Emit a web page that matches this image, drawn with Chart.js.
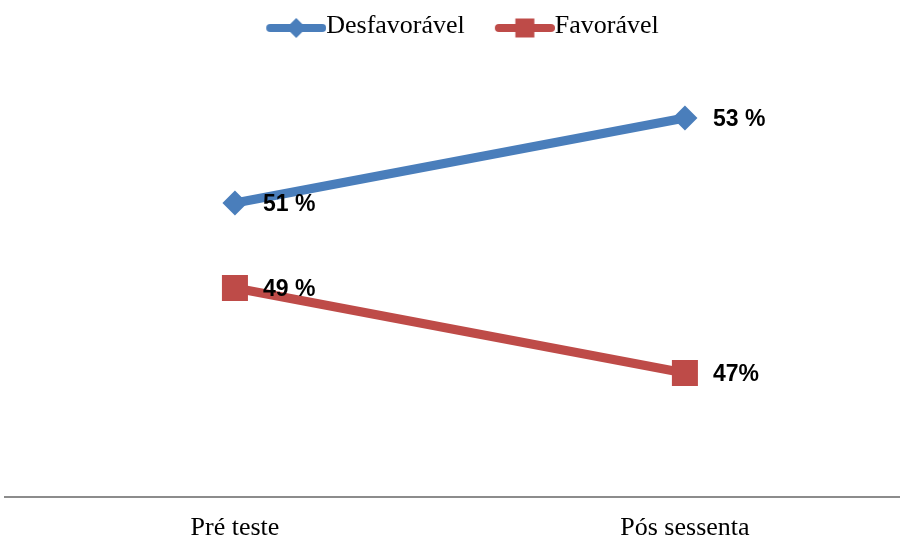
<!DOCTYPE html>
<html>
<head>
<meta charset="utf-8">
<script src="https://cdn.jsdelivr.net/npm/chart.js@4.4.0/dist/chart.umd.min.js"></script>
<style>
  html, body { margin: 0; padding: 0; background: #fff; }
  #wrap { width: 900px; height: 541px; position: relative; }
</style>
</head>
<body>
<div id="wrap"><canvas id="chart"></canvas></div>
<script>
const categories = ['Pré teste', 'Pós sessenta'];
const seriesNames = ['Desfavorável', 'Favorável'];
const desfavoravel = [51, 53];
const favoravel = [49, 47];
const desfavoravelLabels = ['51 %', '53 %'];
const favoravelLabels = ['49 %', '47%'];

const BLUE = '#4a7ebb';
const RED = '#be4b48';

// legend swatch = line + marker, drawn into a small canvas
function legendSwatch(color, marker) {
    const c = document.createElement('canvas');
    c.width = 93;
    c.height = 30;
    const g = c.getContext('2d');
    g.strokeStyle = color;
    g.fillStyle = color;
    g.lineWidth = 8;
    g.lineCap = 'round';
    g.beginPath();
    g.moveTo(37, 17);
    g.lineTo(89, 17);
    g.stroke();
    const cx = 63, cy = 17;
    g.beginPath();
    if (marker === 'diamond') {
        g.moveTo(cx, cy - 10);
        g.lineTo(cx + 10, cy);
        g.lineTo(cx, cy + 10);
        g.lineTo(cx - 10, cy);
        g.closePath();
    } else {
        g.rect(cx - 9.5, cy - 9.5, 19, 19);
    }
    g.fill();
    return c;
}

const swatches = [legendSwatch(BLUE, 'diamond'), legendSwatch(RED, 'square')];

// value labels next to each point
const pointLabels = {
    id: 'pointLabels',
    afterDatasetsDraw(chart) {
        const ctx = chart.ctx;
        ctx.save();
        ctx.font = 'bold 23px "Liberation Sans", Arial, sans-serif';
        ctx.fillStyle = '#000';
        ctx.textAlign = 'left';
        ctx.textBaseline = 'middle';
        chart.data.datasets.forEach((ds, i) => {
            chart.getDatasetMeta(i).data.forEach((pt, j) => {
                ctx.fillText(ds.valueLabels[j], pt.x + 28, pt.y + 2);
            });
        });
        ctx.restore();
    }
};

new Chart(document.getElementById('chart'), {
    type: 'line',
    data: {
        datasets: [
            {
                label: seriesNames[0],
                data: desfavoravel.map((v, i) => ({ x: i, y: v })),
                valueLabels: desfavoravelLabels,
                borderColor: BLUE,
                backgroundColor: BLUE,
                borderWidth: 9,
                pointStyle: 'rectRot',
                pointRadius: 12.5,
                pointBorderWidth: 0,
                pointHoverRadius: 12.5
            },
            {
                label: seriesNames[1],
                data: favoravel.map((v, i) => ({ x: i, y: v })),
                valueLabels: favoravelLabels,
                borderColor: RED,
                backgroundColor: RED,
                borderWidth: 9,
                pointStyle: 'rect',
                pointRadius: 18.4,
                pointBorderWidth: 0,
                pointHoverRadius: 18.4
            }
        ]
    },
    options: {
        responsive: true,
        maintainAspectRatio: false,
        animation: false,
        layout: {
            autoPadding: false,
            padding: { left: 5, right: 0, top: 3, bottom: -18 }
        },
        plugins: {
            tooltip: { enabled: false },
            legend: {
                position: 'top',
                labels: {
                    usePointStyle: true,
                    pointStyleWidth: 67,
                    padding: 10,
                    color: '#000',
                    font: { family: '"Liberation Serif", "Times New Roman", serif', size: 26 },
                    generateLabels(chart) {
                        const items = Chart.defaults.plugins.legend.labels.generateLabels(chart);
                        items.forEach((it, i) => { it.pointStyle = swatches[i]; });
                        return items;
                    }
                }
            }
        },
        scales: {
            x: {
                type: 'linear',
                min: -0.511,
                max: 1.478,
                afterBuildTicks(scale) {
                    scale.ticks = categories.map((c, i) => ({ value: i }));
                },
                grid: { display: false, drawTicks: false },
                border: { color: '#8c8c8c', width: 2 },
                ticks: {
                    callback: (v) => categories[v],
                    color: '#000',
                    padding: 18,
                    maxRotation: 0,
                    autoSkip: false,
                    font: { family: '"Liberation Serif", "Times New Roman", serif', size: 26, lineHeight: 1 }
                }
            },
            y: {
                display: false,
                min: 44.082,
                max: 54.624
            }
        }
    },
    plugins: [pointLabels]
});
</script>
</body>
</html>
